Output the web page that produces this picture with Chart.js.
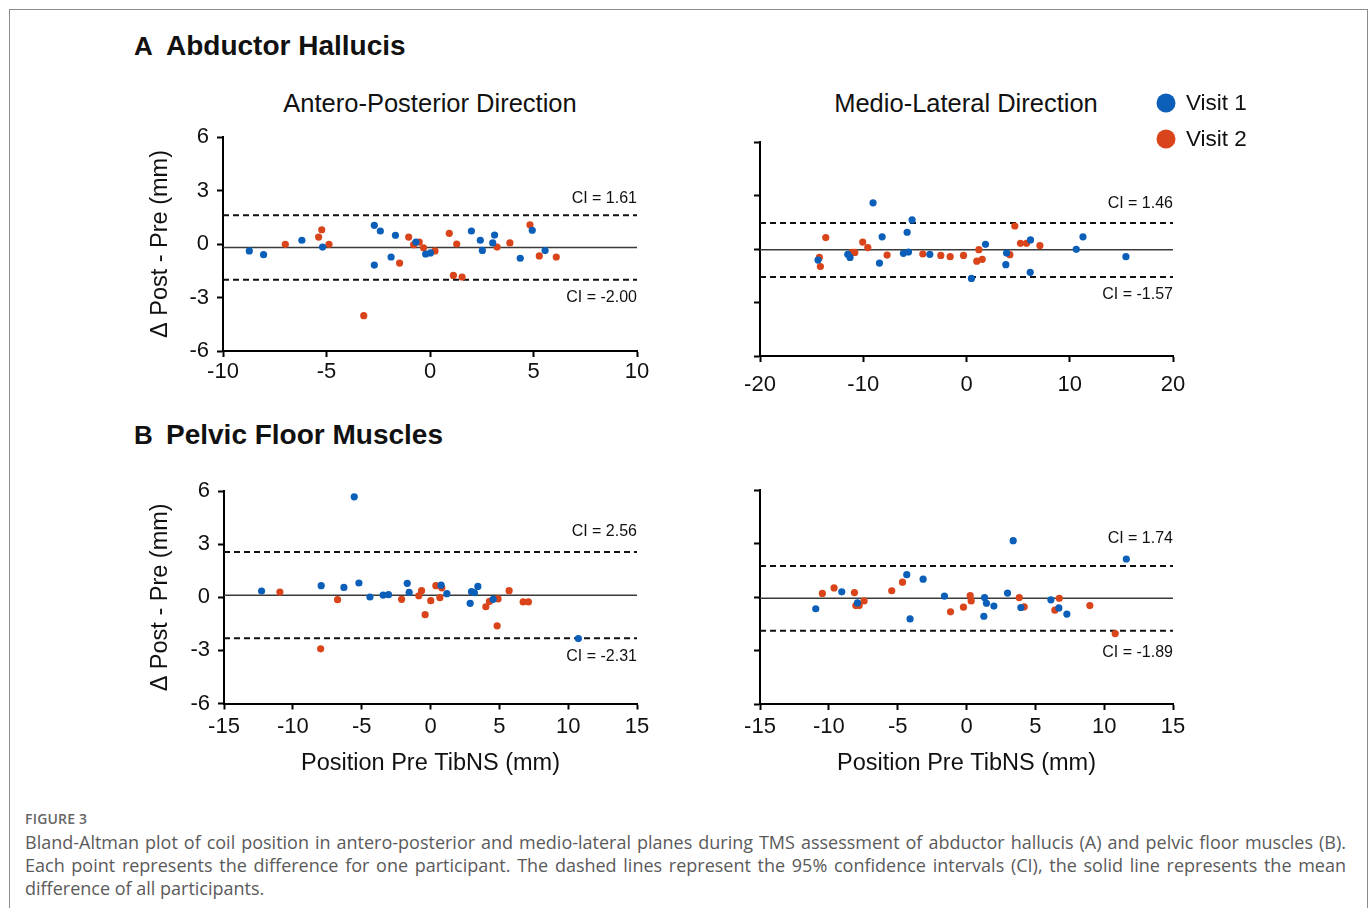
<!DOCTYPE html>
<html>
<head>
<meta charset="utf-8">
<script src="https://cdn.jsdelivr.net/npm/chart.js@4.4.1/dist/chart.umd.min.js"></script>
<style>
  html, body { margin: 0; padding: 0; background: #fff; }
  #fig { position: relative; width: 1372px; height: 908px; overflow: hidden; background: #fff;
         font-family: "Liberation Sans", Arial, sans-serif; color: #111; }
  #frame { position: absolute; left: 9px; top: 9px; width: 1359px; height: 920px; border: 1px solid #8c8c8c; box-sizing: border-box; }
  canvas { position: absolute; }
  .head { position: absolute; font-weight: bold; font-size: 28px; line-height: 30px; white-space: nowrap; }
  .head b { display: inline-block; width: 32px; font-size: 26px; }
  .sub { position: absolute; font-size: 25.5px; line-height: 28px; text-align: center; white-space: nowrap; }
  #cap { position: absolute; left: 25px; top: 807px; width: 1321px; font-family: "Open Sans", Lato, sans-serif; color: #5a5a5a; }
  #cap .fig { font-size: 14px; font-weight: 600; line-height: 24px; letter-spacing: 0.2px; color: #666; }
  #cap .ln { font-size: 18px; line-height: 23px; text-align: justify; text-align-last: justify; white-space: nowrap; }
  #cap .ln.last { text-align-last: left; }
</style>
</head>
<body>
<div id="fig">
  <div id="frame"></div>
  <div class="head" style="left:134px; top:31px;"><b>A</b>Abductor Hallucis</div>
  <div class="head" style="left:134px; top:420px;"><b>B</b>Pelvic Floor Muscles</div>
  <div class="sub" style="left:230px; width:400px; top:89px;">Antero-Posterior Direction</div>
  <div class="sub" style="left:766px; width:400px; top:89px;">Medio-Lateral Direction</div>

  <canvas id="ahAp" width="540" height="290" style="left:130px; top:110px;"></canvas>
  <canvas id="ahMl" width="600" height="320" style="left:700px; top:80px;"></canvas>
  <canvas id="pfAp" width="540" height="330" style="left:130px; top:470px;"></canvas>
  <canvas id="pfMl" width="540" height="330" style="left:700px; top:470px;"></canvas>

  <div id="cap">
    <div class="fig">FIGURE 3</div>
    <div class="ln">Bland-Altman plot of coil position in antero-posterior and medio-lateral planes during TMS assessment of abductor hallucis (A) and pelvic floor muscles (B).</div>
    <div class="ln">Each point represents the difference for one participant. The dashed lines represent the 95% confidence intervals (CI), the solid line represents the mean</div>
    <div class="ln last">difference of all participants.</div>
  </div>
</div>

<script>
// ---- Abductor hallucis, antero-posterior ----
const ahApVisit1X = [-8.73, -8.04, -6.19, -5.19, -2.69, -2.40, -2.69, -1.67, -1.88, -0.68, -0.21, 0.02, 2.00, 2.43, 2.53, 3.03, 3.12, 4.36, 4.94, 5.56];
const ahApVisit1Y = [-0.39, -0.60, 0.21, -0.17, 1.05, 0.73, -1.18, 0.49, -0.73, 0.11, -0.56, -0.50, 0.73, 0.21, -0.36, 0.06, 0.50, -0.80, 0.77, -0.37];
const ahApVisit2X = [-6.99, -5.38, -5.23, -4.88, -3.20, -1.47, -1.03, -0.79, -0.52, -0.31, 0.24, 0.93, 1.13, 1.29, 1.55, 3.24, 3.86, 4.83, 5.28, 6.10];
const ahApVisit2Y = [-0.02, 0.39, 0.80, -0.02, -4.02, -1.07, 0.39, -0.04, 0.11, -0.21, -0.39, 0.60, -1.76, 0.00, -1.85, -0.17, 0.06, 1.08, -0.67, -0.73];

// ---- Abductor hallucis, medio-lateral ----
const ahMlVisit1X = [-14.38, -11.50, -11.28, -9.05, -8.43, -8.17, -6.11, -5.75, -5.62, -5.27, -3.55, 0.48, 1.84, 3.81, 3.88, 6.17, 6.20, 10.63, 11.28, 15.44];
const ahMlVisit1Y = [-0.62, -0.30, -0.47, 2.59, -0.79, 0.68, -0.24, 0.94, -0.17, 1.63, -0.30, -1.65, 0.26, -0.88, -0.23, -1.31, 0.51, -0.02, 0.68, -0.43];
const ahMlVisit2X = [-14.25, -14.15, -13.63, -11.08, -10.82, -10.05, -9.56, -7.69, -4.23, -2.49, -1.58, -0.29, 1.00, 1.20, 1.52, 4.20, 4.68, 5.23, 5.82, 7.11];
const ahMlVisit2Y = [-0.47, -0.98, 0.64, -0.19, -0.19, 0.39, 0.08, -0.34, -0.28, -0.36, -0.43, -0.36, -0.68, -0.04, -0.58, -0.32, 1.29, 0.32, 0.32, 0.19];

// ---- Pelvic floor muscles, antero-posterior ----
const pfApVisit1X = [-12.27, -7.94, -6.29, -5.54, -5.20, -4.40, -3.44, -3.05, -1.69, -1.55, 0.77, 1.19, 2.88, 2.98, 3.19, 3.44, 4.55, 10.74];
const pfApVisit1Y = [0.36, 0.66, 0.56, 5.68, 0.81, 0.02, 0.13, 0.15, 0.79, 0.28, 0.69, 0.21, -0.34, 0.32, 0.26, 0.62, -0.11, -2.33];
const pfApVisit2X = [-10.94, -7.98, -6.75, -2.10, -0.85, -0.65, -0.39, 0.02, 0.39, 0.68, 0.82, 4.02, 4.28, 4.84, 4.91, 5.71, 6.73, 7.11];
const pfApVisit2Y = [0.30, -2.91, -0.13, -0.11, 0.09, 0.38, -0.98, -0.19, 0.66, -0.02, 0.54, -0.53, -0.23, -1.61, -0.09, 0.38, -0.26, -0.26];

// ---- Pelvic floor muscles, medio-lateral ----
const pfMlVisit1X = [-10.95, -9.06, -7.92, -4.34, -4.10, -3.15, -1.60, 1.26, 1.31, 1.45, 1.99, 2.98, 3.39, 3.95, 6.13, 6.71, 7.29, 11.61];
const pfMlVisit1Y = [-0.66, 0.29, -0.33, 1.25, -1.23, 1.00, 0.05, -1.08, -0.03, -0.35, -0.51, 0.22, 3.16, -0.59, -0.16, -0.61, -0.96, 2.13];
const pfMlVisit2X = [-10.47, -9.62, -8.14, -8.04, -7.80, -7.44, -5.43, -4.65, -1.16, -0.22, 0.27, 0.34, 3.83, 4.19, 6.42, 6.74, 8.96, 10.80];
const pfMlVisit2Y = [0.20, 0.51, 0.25, -0.48, -0.48, -0.22, 0.35, 0.83, -0.83, -0.57, 0.08, -0.22, -0.03, -0.55, -0.74, -0.07, -0.48, -2.05];

// Mean difference and 95% limits, one entry per panel: AH-AP, AH-ML, PF-AP, PF-ML
const meanDiff = [-0.19, -0.04, 0.12, -0.07];
const ciUpper = [1.61, 1.46, 2.56, 1.74];
const ciLower = [-2.00, -1.57, -2.31, -1.89];

// Axis ranges and tick steps
const xRanges = [[-10, 10, 5], [-20, 20, 10], [-15, 15, 5], [-15, 15, 5]];
const yRange = [-6, 6, 3];

const seriesNames = ['Visit 1', 'Visit 2'];
const yTitle = 'Δ Post - Pre (mm)';
const xTitle = 'Position Pre TibNS (mm)';

const BLUE = '#0b5fb9';
const ORANGE = '#d9441b';
const FONT = '"Liberation Sans", Arial, sans-serif';

const zip = (xs, ys) => xs.map((x, i) => ({ x, y: ys[i] }));

// Writes the CI values beside the dashed limit lines
const ciLabels = {
  id: 'ciLabels',
  afterDatasetsDraw(chart, args, o) {
    const { ctx, chartArea } = chart;
    const y = chart.scales.y;
    ctx.save();
    ctx.font = '16px ' + FONT;
    ctx.fillStyle = '#111';
    ctx.textAlign = 'right';
    ctx.textBaseline = 'middle';
    ctx.fillText('CI = ' + o.hi.toFixed(2), chartArea.right, y.getPixelForValue(o.hi) - o.upGap);
    ctx.fillText('CI = ' + o.lo.toFixed(2), chartArea.right, y.getPixelForValue(o.lo) + o.downGap);
    ctx.restore();
  }
};

// Stacked key of the two visits, drawn from the scatter datasets
const visitKey = {
  id: 'visitKey',
  afterDraw(chart, args, o) {
    if (!o.show) return;
    const { ctx } = chart;
    ctx.save();
    ctx.font = '22.5px ' + FONT;
    ctx.textBaseline = 'middle';
    ctx.textAlign = 'left';
    chart.data.datasets.filter(d => d.type === 'scatter').forEach((d, i) => {
      const cy = o.y + i * o.gap;
      ctx.beginPath();
      ctx.arc(o.x, cy, 9.5, 0, Math.PI * 2);
      ctx.fillStyle = d.backgroundColor;
      ctx.fill();
      ctx.fillStyle = '#111';
      ctx.fillText(d.label, o.x + 20, cy + 1);
    });
    ctx.restore();
  }
};

function makePanel(id, k, v1x, v1y, v2x, v2y, lay) {
  const [xmin, xmax, xstep] = xRanges[k];
  const hline = (v, dash, w, color) => ({
    type: 'line', data: [{ x: xmin, y: v }, { x: xmax, y: v }],
    borderColor: color, borderWidth: w, borderDash: dash, pointRadius: 0, order: 2
  });
  const dot = (label, data, color) => ({
    type: 'scatter', label, data, backgroundColor: color, borderWidth: 0,
    pointRadius: 3.6, pointHoverRadius: 3.6, order: 1
  });
  const axisCommon = {
    type: 'linear',
    border: { display: true, color: '#000', width: 2 },
    grid: { display: true, drawOnChartArea: false, drawTicks: true, tickLength: 6, tickWidth: 2, tickColor: '#000' }
  };
  const titleFont = { family: FONT, size: 23.5 };
  return new Chart(document.getElementById(id), {
    data: {
      datasets: [
        hline(meanDiff[k], [], 1.5, '#3a3a3a'),
        hline(ciUpper[k], [6, 4], 2, '#111'),
        hline(ciLower[k], [6, 4], 2, '#111'),
        dot(seriesNames[0], zip(v1x, v1y), BLUE),
        dot(seriesNames[1], zip(v2x, v2y), ORANGE)
      ]
    },
    options: {
      responsive: false,
      animation: false,
      events: [],
      layout: { padding: lay.pad },
      plugins: {
        legend: { display: false },
        tooltip: { enabled: false },
        ciLabels: { hi: ciUpper[k], lo: ciLower[k], upGap: lay.upGap, downGap: lay.downGap },
        visitKey: lay.key || { show: false }
      },
      scales: {
        x: Object.assign({}, axisCommon, {
          position: 'bottom', min: xmin, max: xmax,
          ticks: { stepSize: xstep, padding: lay.xPad, color: '#111', font: { family: FONT, size: 22 } },
          title: { display: !!lay.xTitle, text: xTitle, color: '#111', font: titleFont, padding: { bottom: lay.xTitlePad || 0 } },
          afterFit: s => { s.height = lay.xH; }
        }),
        y: Object.assign({}, axisCommon, {
          position: 'left', min: yRange[0], max: yRange[1],
          ticks: { stepSize: yRange[2], display: !!lay.yLabels, padding: 8, color: '#111', font: { family: FONT, size: 22 } },
          title: { display: !!lay.yLabels, text: yTitle, color: '#111', font: titleFont, padding: { top: lay.yTitlePad || 0 } },
          afterFit: s => { s.width = lay.yW; }
        })
      }
    },
    plugins: [ciLabels, visitKey]
  });
}

makePanel('ahAp', 0, ahApVisit1X, ahApVisit1Y, ahApVisit2X, ahApVisit2Y, {
  pad: { left: 0, top: 27, right: 33, bottom: 0 }, yW: 93, xH: 49, xPad: 2,
  yLabels: true, yTitlePad: 16, upGap: 17, downGap: 18
});
makePanel('ahMl', 1, ahMlVisit1X, ahMlVisit1Y, ahMlVisit2X, ahMlVisit2Y, {
  pad: { left: 0, top: 62, right: 127, bottom: 0 }, yW: 60, xH: 44, xPad: 10,
  upGap: 19, downGap: 18, key: { show: true, x: 466, y: 23, gap: 36 }
});
makePanel('pfAp', 2, pfApVisit1X, pfApVisit1Y, pfApVisit2X, pfApVisit2Y, {
  pad: { left: 0, top: 20, right: 33, bottom: 0 }, yW: 94, xH: 96.5, xPad: 4,
  yLabels: true, yTitlePad: 16, xTitle: true, xTitlePad: 22, upGap: 20, downGap: 18
});
makePanel('pfMl', 3, pfMlVisit1X, pfMlVisit1Y, pfMlVisit2X, pfMlVisit2Y, {
  pad: { left: 0, top: 20, right: 67, bottom: 0 }, yW: 60, xH: 96, xPad: 4,
  xTitle: true, xTitlePad: 22, upGap: 27, downGap: 22
});
</script>
</body>
</html>
